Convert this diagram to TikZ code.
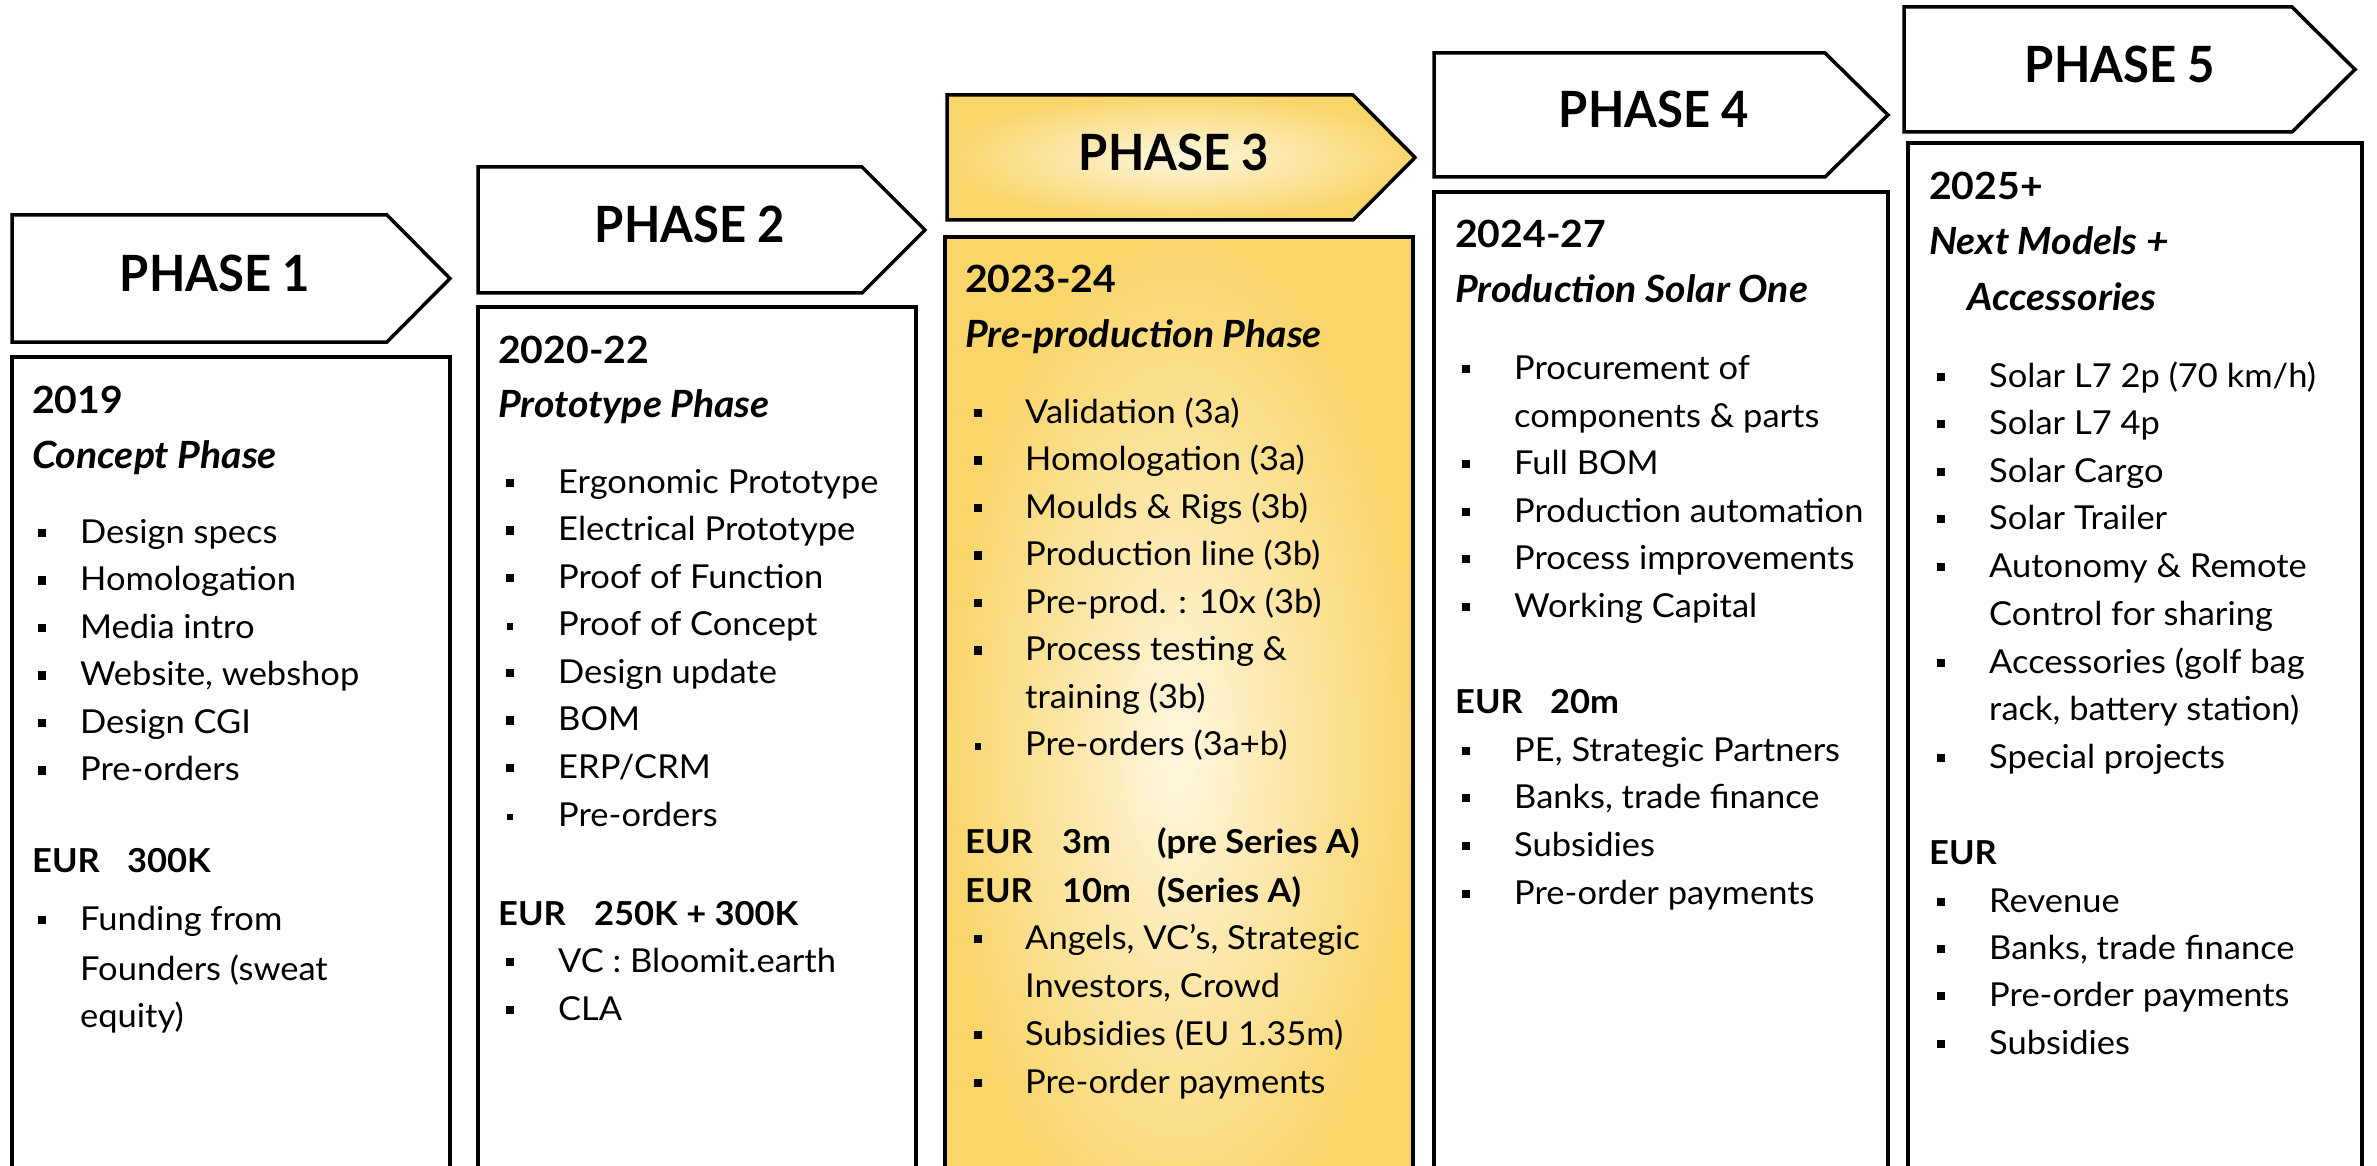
\documentclass[tikz,border=0pt]{standalone}
\usepackage{fontspec}
\setmainfont{Lato}[FakeStretch=1.045]
\newfontfamily\hdrfont{Lato}[FakeStretch=0.945]
\definecolor{gedge}{RGB}{249,213,106}
\definecolor{gcenter}{RGB}{255,247,224}
\tikzset{
  outl/.style={draw=black, line width=3.5pt, line join=miter},
  phasehdr/.style={font=\hdrfont\fontsize{50}{60}\selectfont\bfseries, anchor=base, inner sep=0pt},
  yr/.style={font=\fontsize{37.5}{45}\selectfont\bfseries, anchor=base west, inner sep=0pt},
  subt/.style={font=\fontsize{37.5}{45}\selectfont\bfseries\itshape, anchor=base west, inner sep=0pt},
  txt/.style={font=\fontsize{33}{40}\selectfont, anchor=base west, inner sep=0pt},
  eur/.style={font=\fontsize{33}{40}\selectfont\bfseries, anchor=base west, inner sep=0pt},
  bul/.style={fill=black, minimum size=8.5pt, inner sep=0pt, outer sep=0pt},
  sbul/.style={fill=black, minimum size=6.5pt, inner sep=0pt, outer sep=0pt},
}
% name, bullet x, text x, baseline y, text
\newcommand{\bitem}[5]{\node[bul] (#1b) at (#2,#4-10) {}; \node[txt] (#1) at (#3,#4) {#5};}
\newcommand{\sitem}[5]{\node[sbul] (#1b) at (#2,#4-9) {}; \node[txt] (#1) at (#3,#4) {#5};}
\begin{document}
\begin{tikzpicture}[x=1pt,y=-1pt]
\useasboundingbox (0,0) rectangle (2377,1166);
\clip (0,0) rectangle (2377,1166);
\fill[white] (0,0) rectangle (2377,1166);

% ---------- arrows ----------
\draw[outl] (12,215) -- (387,215) -- (450,278.5) -- (387,342) -- (12,342) -- cycle;
\draw[outl] (478,167) -- (862,167) -- (925,230) -- (862,293) -- (478,293) -- cycle;
\draw[outl, inner color=gcenter, outer color=gedge] (947,95) -- (1353,95) -- (1415,157.5) -- (1353,220) -- (947,220) -- cycle;
\draw[outl] (1434,53) -- (1825,53) -- (1888,115) -- (1825,177) -- (1434,177) -- cycle;
\draw[outl] (1904,7) -- (2292,7) -- (2355,69.5) -- (2292,132) -- (1904,132) -- cycle;

\node[phasehdr] (p1) at (215,291) {PHASE 1};
\node[phasehdr] (p2) at (690,243) {PHASE 2};
\node[phasehdr] (p3) at (1174,171) {PHASE 3};
\node[phasehdr] (p4) at (1654,128) {PHASE 4};
\node[phasehdr] (p5) at (2120,83) {PHASE 5};

% ---------- boxes ----------
\draw[outl] (12,357) rectangle (450,1240);
\draw[outl] (478,307) rectangle (916,1240);
\draw[outl, inner color=gcenter, outer color=gedge] (945,237) rectangle (1413,1262);
\draw[outl] (1434,192) rectangle (1888,1240);
\draw[outl] (1908,143) rectangle (2362,1240);

% ---------- column 1 ----------
\node[yr] (c1y) at (32,413) {2019};
\node[subt] (c1s) at (32,468) {Concept Phase};
\bitem{c1a}{42}{80}{543}{Design specs}
\bitem{c1b}{42}{80}{590.5}{Homologation}
\bitem{c1c}{42}{80}{638}{Media intro}
\bitem{c1d}{42}{80}{685.5}{Website, webshop}
\bitem{c1e}{42}{80}{733}{Design CGI}
\bitem{c1f}{42}{80}{780.5}{Pre-orders}
\node[eur] (c1eur) at (32,872) {\makebox[95pt][l]{EUR}300K};
\bitem{c1g}{42}{80}{930}{Funding from}
\node[txt] (c1h) at (80,980) {Founders (sweat};
\node[txt] (c1i) at (80,1027) {equity)};

% ---------- column 2 ----------
\node[yr] (c2y) at (498,363) {2020-22};
\node[subt] (c2s) at (498,417) {Prototype Phase};
\bitem{c2a}{510}{558}{493}{Ergonomic Prototype}
\bitem{c2b}{510}{558}{540.5}{Electrical Prototype}
\bitem{c2c}{510}{558}{588}{Proof of Function}
\sitem{c2d}{510}{558}{635.5}{Proof of Concept}
\bitem{c2e}{510}{558}{683}{Design update}
\bitem{c2f}{510}{558}{730.5}{BOM}
\bitem{c2g}{510}{558}{778}{ERP/CRM}
\sitem{c2h}{510}{558}{826}{Pre-orders}
\node[eur] (c2eur) at (498,925) {\makebox[96pt][l]{EUR}250K + 300K};
\bitem{c2i}{510}{558}{972}{VC : Bloomit.earth}
\bitem{c2j}{510}{558}{1020}{CLA}

% ---------- column 3 ----------
\node[yr] (c3y) at (965,293) {2023-24};
\node[subt] (c3s) at (965,347) {Pre-production Phase};
\bitem{c3a}{978}{1025}{423}{Validation (3a)}
\bitem{c3b}{978}{1025}{470.5}{Homologation (3a)}
\bitem{c3c}{978}{1025}{518}{Moulds \& Rigs (3b)}
\bitem{c3d}{978}{1025}{565.5}{Production line (3b)}
\bitem{c3e}{978}{1025}{613}{Pre-prod. : 10x (3b)}
\bitem{c3f}{978}{1025}{660.5}{Process testing \&}
\node[txt] (c3g) at (1025,708) {training (3b)};
\sitem{c3h}{978}{1025}{755.5}{Pre-orders (3a+b)}
\node[eur] (c3eur1) at (965,853) {\makebox[97pt][l]{EUR}\makebox[95pt][l]{3m}(pre Series A)};
\node[eur] (c3eur2) at (965,902) {\makebox[97pt][l]{EUR}\makebox[95pt][l]{10m}(Series A)};
\bitem{c3i}{978}{1025}{949}{Angels, VC’s, Strategic}
\node[txt] (c3j) at (1025,997) {Investors, Crowd};
\bitem{c3k}{978}{1025}{1045}{Subsidies (EU 1.35m)}
\bitem{c3l}{978}{1025}{1093}{Pre-order payments}

% ---------- column 4 ----------
\node[yr] (c4y) at (1455,248) {2024-27};
\node[subt] (c4s) at (1455,302) {Production Solar One};
\bitem{c4a}{1466}{1514}{379}{Procurement of}
\node[txt] (c4b) at (1514,427) {components \& parts};
\bitem{c4c}{1466}{1514}{474}{Full BOM}
\bitem{c4d}{1466}{1514}{522}{Production automation}
\bitem{c4e}{1466}{1514}{569}{Process improvements}
\bitem{c4f}{1466}{1514}{617}{Working Capital}
\node[eur] (c4eur) at (1455,713) {\makebox[95pt][l]{EUR}20m};
\bitem{c4g}{1466}{1514}{761}{PE, Strategic Partners}
\bitem{c4h}{1466}{1514}{808}{Banks, trade finance}
\bitem{c4i}{1466}{1514}{856}{Subsidies}
\bitem{c4j}{1466}{1514}{904}{Pre-order payments}

% ---------- column 5 ----------
\node[yr] (c5y) at (1929,200) {2025+};
\node[subt] (c5s) at (1929,255) {Next Models +};
\node[subt] (c5s2) at (1967,310) {Accessories};
\bitem{c5a}{1941}{1989}{387}{Solar L7 2p (70 km/h)}
\bitem{c5b}{1941}{1989}{434}{Solar L7 4p}
\bitem{c5c}{1941}{1989}{482}{Solar Cargo}
\bitem{c5d}{1941}{1989}{529}{Solar Trailer}
\bitem{c5e}{1941}{1989}{577}{Autonomy \& Remote}
\node[txt] (c5f) at (1989,625) {Control for sharing};
\bitem{c5g}{1941}{1989}{673}{Accessories (golf bag}
\node[txt] (c5h) at (1989,720) {rack, battery station)};
\bitem{c5i}{1941}{1989}{768}{Special projects}
\node[eur] (c5eur) at (1929,864) {EUR};
\bitem{c5j}{1941}{1989}{912}{Revenue}
\bitem{c5k}{1941}{1989}{959}{Banks, trade finance}
\bitem{c5l}{1941}{1989}{1006}{Pre-order payments}
\bitem{c5m}{1941}{1989}{1054}{Subsidies}
\end{tikzpicture}
\end{document}
